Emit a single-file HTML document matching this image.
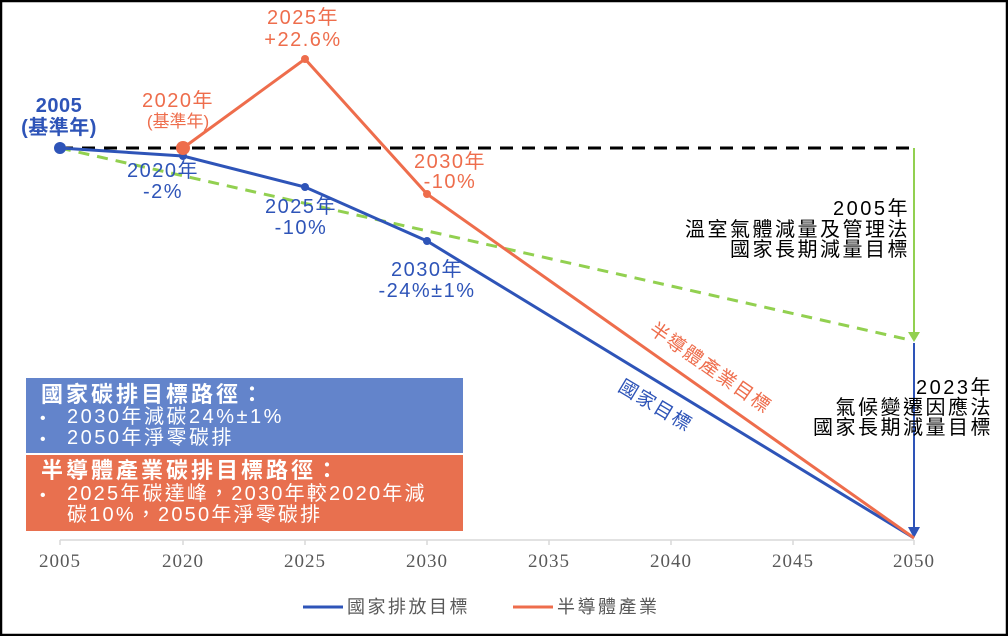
<!DOCTYPE html>
<html><head><meta charset="utf-8"><style>
body{margin:0;background:#fff}
svg{display:block}
text{font-family:"Liberation Sans","Noto Sans CJK TC",sans-serif}
.s{font-family:"Liberation Serif","Noto Serif CJK SC",serif}
</style></head><body>
<svg width="1008" height="636" viewBox="0 0 1008 636" xmlns="http://www.w3.org/2000/svg">
<rect x="1" y="1" width="1006" height="634" fill="#fff" stroke="#000" stroke-width="2.5"/>
<line x1="60" y1="540" x2="914" y2="540" stroke="#d9d9d9" stroke-width="1.5"/>
<g stroke="#d9d9d9" stroke-width="1.5">
<line x1="60" y1="540" x2="60" y2="545"/><line x1="183" y1="540" x2="183" y2="545"/><line x1="305" y1="540" x2="305" y2="545"/><line x1="427" y1="540" x2="427" y2="545"/><line x1="549" y1="540" x2="549" y2="545"/><line x1="671" y1="540" x2="671" y2="545"/><line x1="793" y1="540" x2="793" y2="545"/><line x1="914" y1="540" x2="914" y2="545"/></g>
<g font-size="19" fill="#595959" text-anchor="middle" letter-spacing="1">
<text class="s" x="60" y="567">2005</text><text class="s" x="183" y="567">2020</text><text class="s" x="305" y="567">2025</text><text class="s" x="427" y="567">2030</text><text class="s" x="549" y="567">2035</text><text class="s" x="671" y="567">2040</text><text class="s" x="793" y="567">2045</text><text class="s" x="914" y="567">2050</text></g>
<line x1="60" y1="148" x2="914" y2="148" stroke="#000" stroke-width="3" stroke-dasharray="13,9"/>
<line x1="60" y1="148" x2="910" y2="340" stroke="#92d050" stroke-width="3" stroke-dasharray="11,8"/>
<line x1="914" y1="148" x2="914" y2="332" stroke="#92d050" stroke-width="2"/>
<polygon points="908,332 920,332 914,342" fill="#92d050"/>
<line x1="914" y1="343" x2="914" y2="528" stroke="#2e54b8" stroke-width="2"/>
<polygon points="908,527 920,527 914,538" fill="#2e54b8"/>
<polyline points="60,148 183,156 305,187 427,241 914,538" fill="none" stroke="#2e54b8" stroke-width="3"/>
<polyline points="183,148 305,59 427,194 914,538" fill="none" stroke="#ee6d4c" stroke-width="3"/>
<circle cx="60" cy="148" r="6" fill="#2e54b8"/>
<circle cx="183" cy="156" r="4" fill="#2e54b8"/><circle cx="305" cy="187" r="4" fill="#2e54b8"/><circle cx="427" cy="241" r="4" fill="#2e54b8"/>
<circle cx="183" cy="148" r="7" fill="#ee6d4c"/><circle cx="305" cy="59" r="4" fill="#ee6d4c"/><circle cx="427" cy="194" r="4" fill="#ee6d4c"/>
<g font-size="20" fill="#2e54b8" text-anchor="middle" font-weight="bold" letter-spacing="0.5">
<text x="59" y="112">2005</text><text x="59" y="134">(基準年)</text></g>
<g font-size="20" fill="#2e54b8" text-anchor="middle" letter-spacing="1.5">
<text x="163" y="177">2020年</text><text x="163" y="198">-2%</text>
<text x="301" y="213">2025年</text><text x="301" y="234">-10%</text>
<text x="427" y="276">2030年</text><text x="427" y="297">-24%±1%</text></g>
<g font-size="20" fill="#ee6d4c" text-anchor="middle" letter-spacing="1.5">
<text x="303" y="24">2025年</text><text x="303" y="46">+22.6%</text>
<text x="178" y="107">2020年</text><text x="178" y="127" font-size="17" letter-spacing="0">(基準年)</text>
<text x="450" y="168">2030年</text><text x="450" y="188">-10%</text></g>
<text x="0" y="0" font-size="19" fill="#ee6d4c" letter-spacing="1.5" transform="translate(648,332) rotate(35)">半導體產業目標</text>
<text x="0" y="0" font-size="19" fill="#2e54b8" letter-spacing="1.5" transform="translate(617,390) rotate(31)">國家目標</text>
<g font-size="20" fill="#000" text-anchor="end" letter-spacing="2.5">
<text x="910" y="215">2005年</text><text x="910" y="236">溫室氣體減量及管理法</text><text x="910" y="256">國家長期減量目標</text>
<text x="993" y="394">2023年</text><text x="993" y="414">氣候變遷因應法</text><text x="993" y="434">國家長期減量目標</text></g>
<rect x="26" y="378" width="437" height="75" fill="#6384cb"/>
<rect x="26" y="455" width="437" height="76" fill="#e8704f"/>
<g fill="#fff">
<text x="41" y="402" font-size="22" font-weight="bold" letter-spacing="3">國家碳排目標路徑：</text>
<text x="40" y="423" font-size="16">•</text><text x="67" y="423" font-size="20" letter-spacing="2.5">2030年減碳24%±1%</text>
<text x="40" y="444" font-size="16">•</text><text x="67" y="444" font-size="20" letter-spacing="2.5">2050年淨零碳排</text>
<text x="41" y="478" font-size="22" font-weight="bold" letter-spacing="3">半導體產業碳排目標路徑：</text>
<text x="40" y="500" font-size="16">•</text><text x="67" y="500" font-size="20" letter-spacing="2.2">2025年碳達峰，2030年較2020年減</text>
<text x="67" y="521" font-size="20" letter-spacing="2.2">碳10%，2050年淨零碳排</text></g>
<line x1="303" y1="607" x2="343" y2="607" stroke="#2e54b8" stroke-width="3"/>
<text x="347" y="613" font-size="18" fill="#595959" letter-spacing="2.5">國家排放目標</text>
<line x1="513" y1="607" x2="553" y2="607" stroke="#ee6d4c" stroke-width="3"/>
<text x="557" y="613" font-size="18" fill="#595959" letter-spacing="2.5">半導體產業</text>
</svg>
</body></html>
